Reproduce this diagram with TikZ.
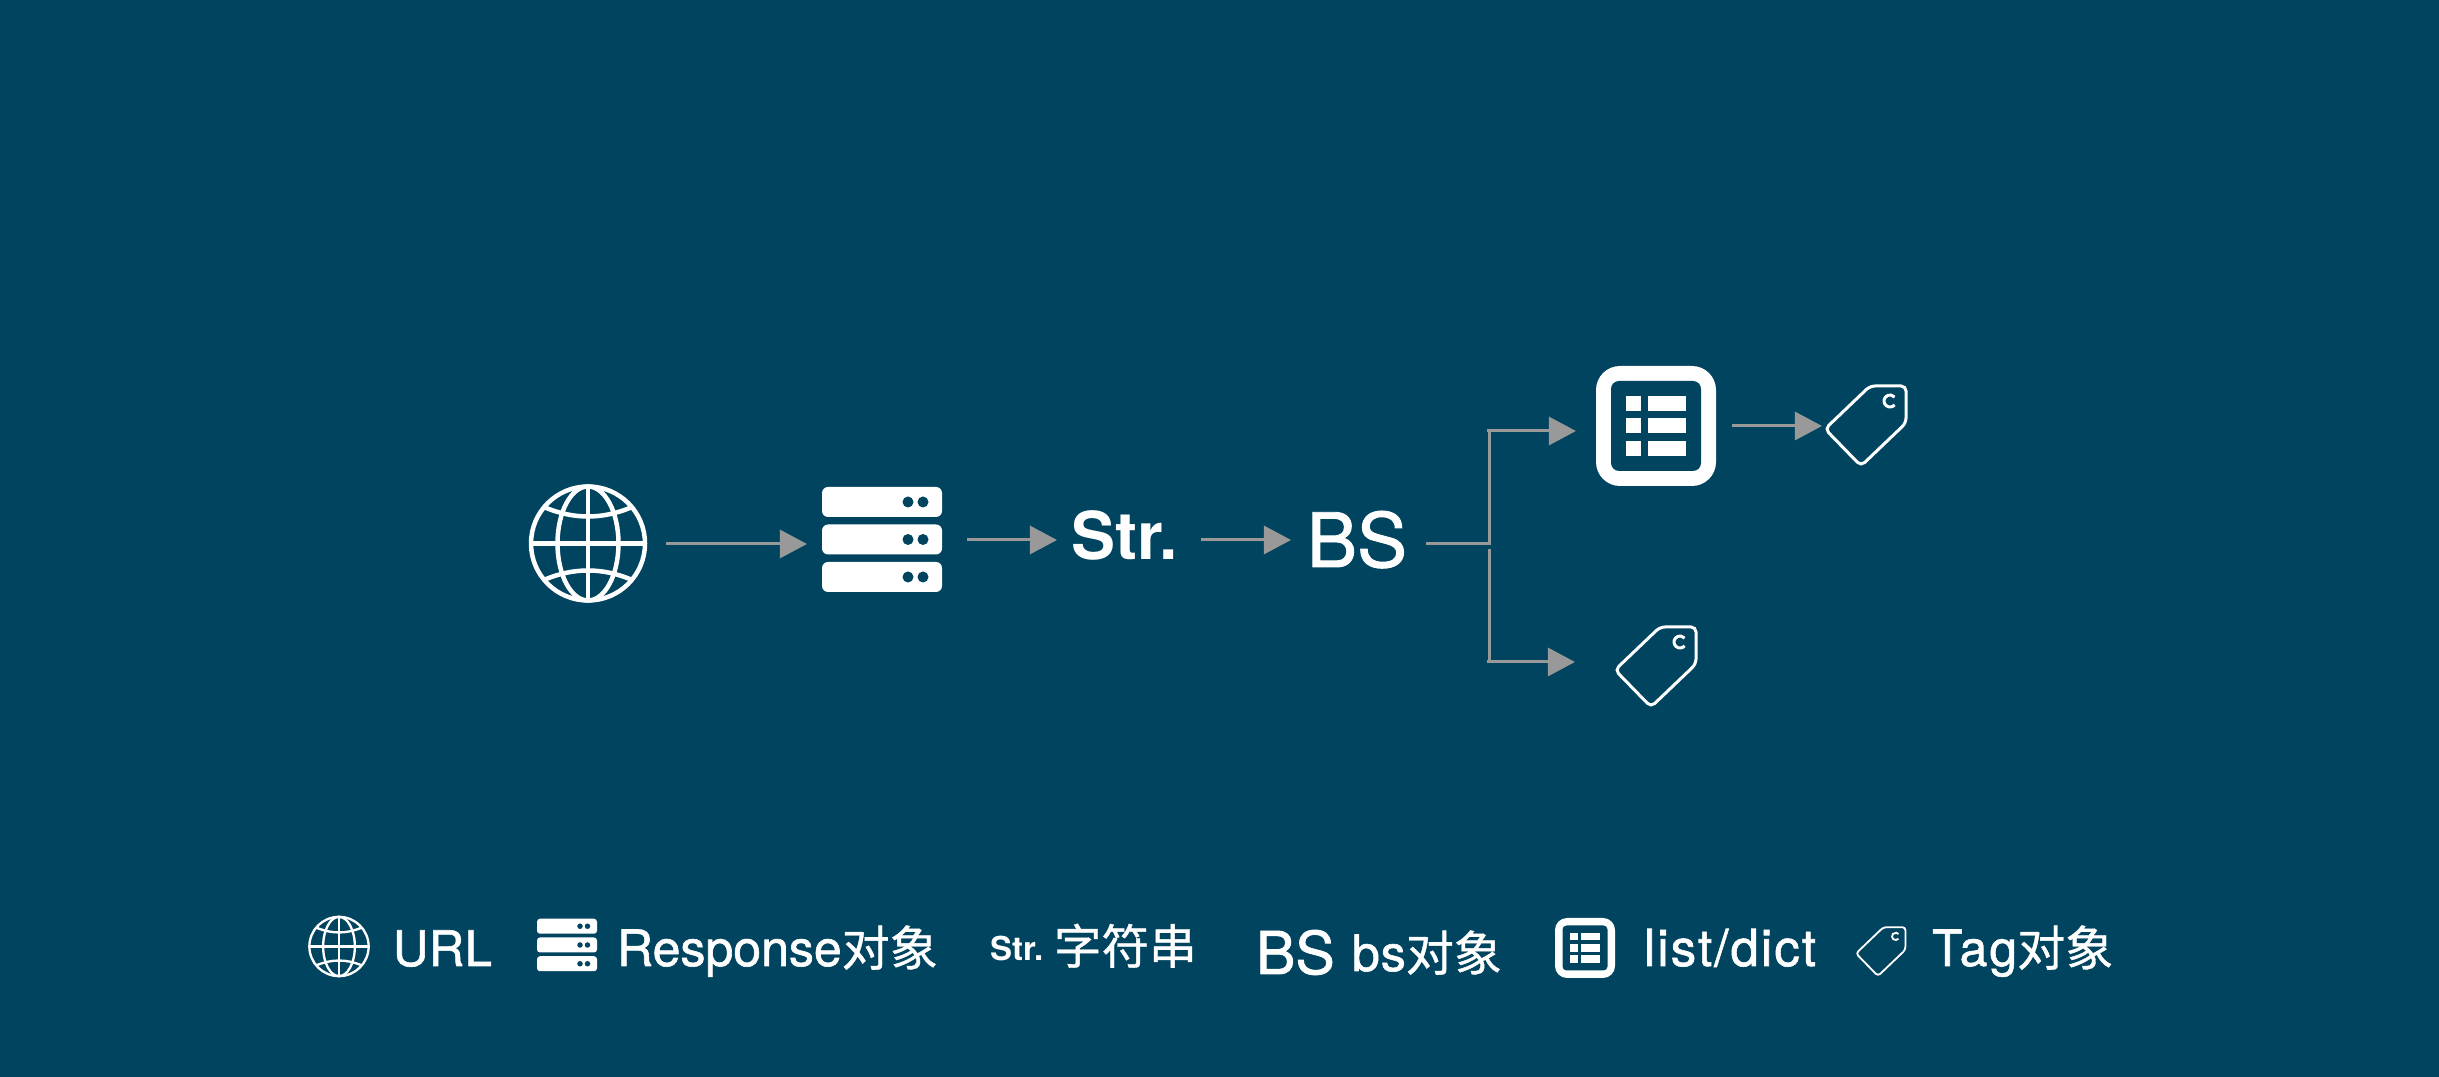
\documentclass[tikz,border=0pt]{standalone}
\usepackage{fontspec}
\setmainfont{TeX Gyre Heros}[FakeBold=1.2,BoldFeatures={FakeBold=0}]
\newfontfamily\cjk{Noto Sans CJK SC}[FakeBold=0.8]
\usetikzlibrary{arrows.meta}
\definecolor{bgc}{HTML}{01445F}
\definecolor{conc}{HTML}{999999}
\newcommand{\fs}[1]{\pgfmathsetmacro\fsz{#1*0.2845}\pgfmathsetmacro\fsb{#1*0.34}\fontsize{\fsz}{\fsb}\selectfont}
\newcommand{\lsp}[1]{\addfontfeature{LetterSpace=#1}}
\newcommand{\ck}[1]{{\fs{48}\cjk #1}}
\tikzset{
  conn/.style={draw=conc,line width=.03cm},
  arr/.style={conn,-{Triangle[length=.27cm,width=.28cm,fill=conc]}},
  hit/.style={draw=none,fill=none,inner sep=0pt,outer sep=0pt},
  lab/.style={anchor=base west,inner sep=0pt,outer sep=0pt,text=white},
}
\newcommand{\globeicon}[3]{%
  \begin{scope}[shift={(#1,#2)},scale=#3,draw=white,line width=#3*.045cm]
    \draw (0,0) circle[radius=57];
    \draw (0,0) ellipse[x radius=30.5,y radius=57];
    \draw (0,-57) -- (0,57);
    \draw (-57,0) -- (57,0);
    \draw (-43,-36) .. controls (-14,-24) and (14,-24) .. (43,-36);
    \draw (-43,36) .. controls (-14,24) and (14,24) .. (43,36);
  \end{scope}}
\newcommand{\servericon}[3]{%
  \begin{scope}[shift={(#1,#2)},scale=#3]
    \foreach \yy in {-37.5,0,37.5}{
      \fill[white,rounded corners=#3*.06cm] (-60,\yy-15) rectangle (60,\yy+15);
      \fill[bgc] (26,\yy) circle[radius=5.5];
      \fill[bgc] (41,\yy) circle[radius=5.5];
    }
  \end{scope}}
\newcommand{\listicon}[3]{%
  \begin{scope}[shift={(#1,#2)},scale=#3]
    \fill[white,rounded corners=#3*.24cm] (-60,-60) rectangle (60,60);
    \fill[bgc,rounded corners=#3*.08cm] (-45,-45) rectangle (45,45);
    \foreach \yy in {-22.5,0,22.5}{
      \fill[white] (-30.5,\yy-7.5) rectangle (-15,\yy+7.5);
      \fill[white] (-8,\yy-7.5) rectangle (30,\yy+7.5);
    }
  \end{scope}}
\newcommand{\tagicon}[3]{%
  \begin{scope}[shift={(#1,#2)},scale=#3,draw=white,line width=#3*.03cm]
    \draw[rounded corners=#3*.05cm] (-41,4) -- (4,-39) -- (40,-39) -- (40,-2) -- (-5,41) -- cycle;
    \draw (24,-24) ++(40:6) arc[start angle=40,end angle=320,radius=6];
  \end{scope}}
\begin{document}
\begin{tikzpicture}[x=.01cm,y=-.01cm]
\useasboundingbox[fill=bgc] (0,0) rectangle (2439,1077);
% main icons: invisible nodes carry the names the connectors attach to
\globeicon{588}{543.5}{1}
\node[hit,minimum width=1.56cm,minimum height=1.2cm] (globe) at (588,544) {};
\servericon{882}{539.5}{1}
\node[hit,minimum width=1.6cm,minimum height=1.05cm] (server) at (887,540) {};
\node[lab,font=\fs{66}\bfseries] (str) at (1071,560) {Str.};
\node[lab,font=\fs{75}] (bs) at (1307,567) {BS};
\listicon{1656}{426}{1}
\node[hit,minimum width=1.2cm,minimum height=1.2cm] (list) at (1656,426) {};
\tagicon{1866}{425}{1}
\node[hit,minimum width=.82cm,minimum height=.82cm] (tagA) at (1866,426) {};
\tagicon{1656}{666}{1}
\node[hit,minimum width=.82cm,minimum height=.82cm] (tagB) at (1656,666) {};
% junction points
\coordinate (j) at (1489.5,544);
\coordinate (jtop) at (1489.5,431);
\coordinate (jgap) at (1489.5,549);
\coordinate (jbot) at (1489.5,662);
% connectors
\draw[arr] (globe.east) -- (server.west |- globe.east);
\draw[arr] (server.east) -- ([xshift=-.14cm]str.west |- server.east);
\draw[arr] ([xshift=.24cm]str.east |- server.east) -- ([xshift=-.16cm]bs.west |- server.east);
\draw[conn] ([xshift=.19cm]bs.east |- j) -- (j) -- (jtop);
\draw[arr] ([xshift=-.03cm]jtop) -- ([xshift=-.2cm]list.west |- jtop);
\draw[conn] (jgap) -- (jbot);
\draw[arr] ([xshift=-.03cm]jbot) -- ([xshift=-.4cm]tagB.west |- jbot);
\draw[arr] ([xshift=.16cm]list.east) -- ([xshift=-.03cm]tagA.west);
% legend
\globeicon{339}{946.5}{.52}
\node[lab,font=\fs{49}\lsp{1}] at (393,966) {URL};
\servericon{567}{945}{.5}
\node[lab,font=\fs{50}] at (617,966) {Response\ck{对象}};
\node[lab,font=\fs{33}\bfseries] at (990,961) {Str.};
\node[lab,font=\fs{47.5}] at (1054,964) {\cjk 字符串};
\node[lab,font=\fs{59}] at (1256,974) {BS};
\node[lab,font=\fs{50}\lsp{2}] at (1352,971) {bs\ck{对象}};
\listicon{1585}{948}{.5}
\node[lab,font=\fs{51}\lsp{4}] at (1644,966) {list/dict};
\tagicon{1881}{951}{.61}
\node[lab,font=\fs{50}\lsp{4}] at (1932,966) {Tag\ck{对象}};
\end{tikzpicture}
\end{document}
